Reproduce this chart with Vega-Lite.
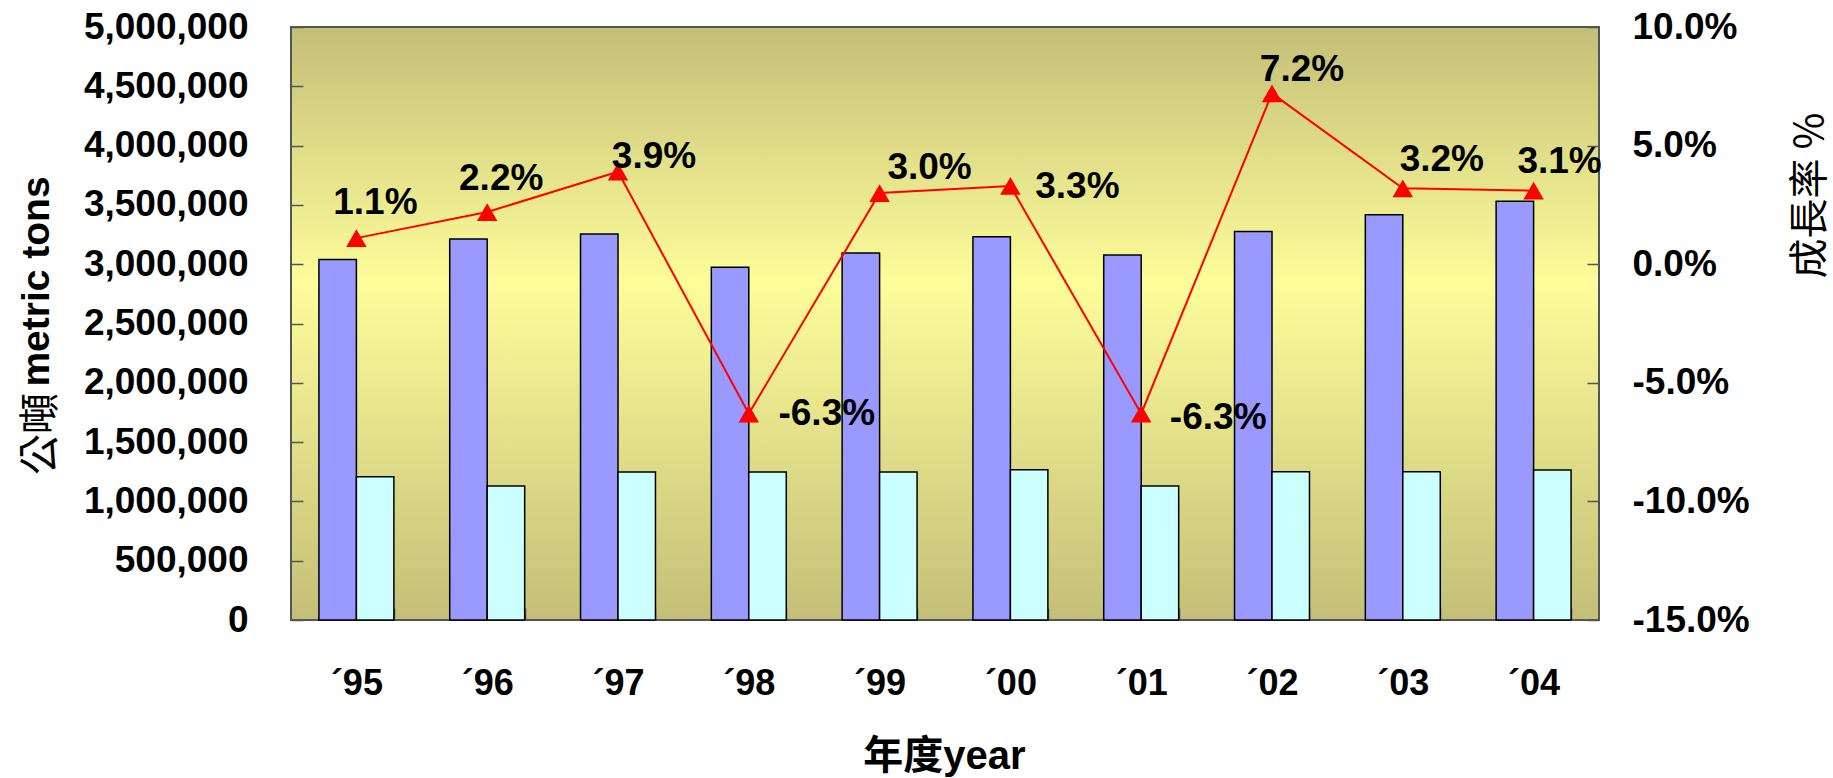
{
  "$schema": "https://vega.github.io/schema/vega-lite/v6.json",
  "autosize": {"type": "none"},
  "width": 1308,
  "height": 593,
  "padding": {"left": 291, "top": 27, "right": 234, "bottom": 158},
  "background": "white",
  "title": {
    "text": "公噸",
    "orient": "left",
    "anchor": "start",
    "frame": "group",
    "offset": -46,
    "dx": 145,
    "font": "Noto Sans CJK TC",
    "fontWeight": "normal",
    "fontSize": 41,
    "color": "black"
  },
  "config": {
    "font": "Liberation Sans",
    "locale": {"number": {"decimal": ".", "thousands": ",", "grouping": [3], "currency": ["$", ""], "minus": "-"}},
    "view": {
      "stroke": "#555555",
      "strokeWidth": 2,
      "fill": {
        "gradient": "linear",
        "x1": 0, "y1": 0, "x2": 0, "y2": 1,
        "stops": [
          {"offset": 0, "color": "#c3bf78"},
          {"offset": 0.43, "color": "#fdfd9a"},
          {"offset": 1, "color": "#c3bf78"}
        ]
      }
    },
    "axis": {
      "grid": false,
      "domain": false,
      "labelFont": "Liberation Sans",
      "labelFontWeight": "bold",
      "labelFontSize": 37,
      "labelColor": "black",
      "tickColor": "#555555",
      "tickWidth": 1.5,
      "tickSize": -12
    }
  },
  "data": {
    "values": [
      {"year": "´95", "s1": 3040000, "s2": 1208000, "growth": 0.011},
      {"year": "´96", "s1": 3212000, "s2": 1130000, "growth": 0.022},
      {"year": "´97", "s1": 3255000, "s2": 1248000, "growth": 0.039},
      {"year": "´98", "s1": 2974000, "s2": 1248000, "growth": -0.063},
      {"year": "´99", "s1": 3094000, "s2": 1248000, "growth": 0.030},
      {"year": "´00", "s1": 3232000, "s2": 1267000, "growth": 0.033},
      {"year": "´01", "s1": 3078000, "s2": 1129000, "growth": -0.063},
      {"year": "´02", "s1": 3275000, "s2": 1249000, "growth": 0.072},
      {"year": "´03", "s1": 3418000, "s2": 1249000, "growth": 0.032},
      {"year": "´04", "s1": 3531000, "s2": 1265000, "growth": 0.031}
    ]
  },
  "encoding": {
    "x": {
      "field": "year",
      "type": "ordinal",
      "sort": null,
      "scale": {"paddingInner": 0.427, "paddingOuter": 0.2135},
      "axis": {
        "labelAngle": 0,
        "labelFontSize": 36,
        "tickBand": "extent",
        "labelPadding": 58,
        "title": "年度year",
        "titleFont": "Liberation Sans, Noto Sans CJK TC",
        "titleFontWeight": "bold",
        "titleFontSize": 40,
        "titleColor": "black",
        "titleX": 653,
        "titleY": 136,
        "titleAlign": "center",
        "titleBaseline": "middle"
      }
    }
  },
  "layer": [
    {
      "transform": [{"fold": ["s1", "s2"], "as": ["series", "tons"]}],
      "mark": {"type": "bar", "stroke": "black", "strokeWidth": 1.5},
      "encoding": {
        "xOffset": {"field": "series", "type": "nominal", "scale": {"paddingInner": 0, "paddingOuter": 0}},
        "y": {
          "field": "tons",
          "type": "quantitative",
          "scale": {"domain": [0, 5000000], "nice": false},
          "axis": {
            "orient": "left",
            "values": [0, 500000, 1000000, 1500000, 2000000, 2500000, 3000000, 3500000, 4000000, 4500000, 5000000],
            "format": ",.0f",
            "labelPadding": 55,
            "title": "metric tons",
            "titleFont": "Liberation Sans",
            "titleFontWeight": "bold",
            "titleFontSize": 39,
            "titleColor": "black",
            "titleAngle": 270,
            "titleAlign": "center",
            "titleBaseline": "middle",
            "titleX": -255,
            "titleY": 254
          }
        },
        "color": {"field": "series", "type": "nominal", "scale": {"range": ["#9999ff", "#ccffff"]}, "legend": null}
      }
    },
    {
      "encoding": {
        "y": {
          "field": "growth",
          "type": "quantitative",
          "scale": {"domain": [-0.15, 0.1], "nice": false},
          "axis": {
            "orient": "right",
            "values": [-0.15, -0.1, -0.05, 0, 0.05, 0.1],
            "format": ".1%",
            "labelPadding": 45,
            "title": "成長率 %",
            "titleFont": "Noto Sans CJK TC",
            "titleFontWeight": "normal",
            "titleFontSize": 40,
            "titleColor": "black",
            "titleAngle": 270,
            "titleAlign": "center",
            "titleBaseline": "middle",
            "titleX": 211,
            "titleY": 168
          }
        }
      },
      "layer": [
        {"mark": {"type": "line", "color": "#ff0000", "strokeWidth": 2}},
        {"mark": {"type": "point", "shape": "triangle-up", "filled": true, "color": "#ff0000", "opacity": 1, "size": 420}},
        {"transform": [{"filter": {"field": "year", "equal": "´95"}}], "mark": {"type": "text", "dx": 19, "dy": -35, "fontSize": 37, "fontWeight": "bold", "color": "black"}, "encoding": {"text": {"field": "growth", "format": ".1%"}}},
        {"transform": [{"filter": {"field": "year", "equal": "´96"}}], "mark": {"type": "text", "dx": 14, "dy": -33, "fontSize": 37, "fontWeight": "bold", "color": "black"}, "encoding": {"text": {"field": "growth", "format": ".1%"}}},
        {"transform": [{"filter": {"field": "year", "equal": "´97"}}], "mark": {"type": "text", "dx": 36, "dy": -15, "fontSize": 37, "fontWeight": "bold", "color": "black"}, "encoding": {"text": {"field": "growth", "format": ".1%"}}},
        {"transform": [{"filter": {"field": "year", "equal": "´98"}}], "mark": {"type": "text", "dx": 78, "dy": 0, "fontSize": 37, "fontWeight": "bold", "color": "black"}, "encoding": {"text": {"field": "growth", "format": ".1%"}}},
        {"transform": [{"filter": {"field": "year", "equal": "´99"}}], "mark": {"type": "text", "dx": 50, "dy": -25, "fontSize": 37, "fontWeight": "bold", "color": "black"}, "encoding": {"text": {"field": "growth", "format": ".1%"}}},
        {"transform": [{"filter": {"field": "year", "equal": "´00"}}], "mark": {"type": "text", "dx": 67, "dy": 1, "fontSize": 37, "fontWeight": "bold", "color": "black"}, "encoding": {"text": {"field": "growth", "format": ".1%"}}},
        {"transform": [{"filter": {"field": "year", "equal": "´01"}}], "mark": {"type": "text", "dx": 77, "dy": 4, "fontSize": 37, "fontWeight": "bold", "color": "black"}, "encoding": {"text": {"field": "growth", "format": ".1%"}}},
        {"transform": [{"filter": {"field": "year", "equal": "´02"}}], "mark": {"type": "text", "dx": 30, "dy": -23, "fontSize": 37, "fontWeight": "bold", "color": "black"}, "encoding": {"text": {"field": "growth", "format": ".1%"}}},
        {"transform": [{"filter": {"field": "year", "equal": "´03"}}], "mark": {"type": "text", "dx": 39, "dy": -28, "fontSize": 37, "fontWeight": "bold", "color": "black"}, "encoding": {"text": {"field": "growth", "format": ".1%"}}},
        {"transform": [{"filter": {"field": "year", "equal": "´04"}}], "mark": {"type": "text", "dx": 26, "dy": -29, "fontSize": 37, "fontWeight": "bold", "color": "black"}, "encoding": {"text": {"field": "growth", "format": ".1%"}}}
      ]
    }
  ],
  "resolve": {"scale": {"y": "independent", "color": "independent"}}
}
